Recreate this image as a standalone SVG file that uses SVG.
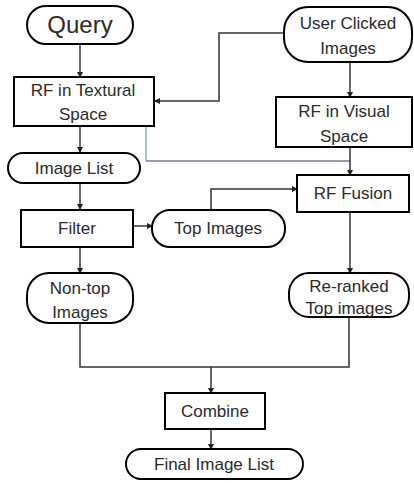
<svg xmlns="http://www.w3.org/2000/svg" width="414" height="483" viewBox="0 0 414 483">
<style>
.box{fill:#fff;stroke:#000;stroke-width:2}
.t{font-family:"Liberation Sans",Arial,sans-serif;font-size:17px;fill:#2a2a2a;text-anchor:middle}
.c{fill:none;stroke:#333;stroke-width:1.5}
</style>
<defs>
<marker id="a" markerWidth="6" markerHeight="6" refX="5" refY="3" orient="auto" markerUnits="userSpaceOnUse">
<path d="M0,0 L6,3 L0,6 Z" fill="#222"/>
</marker>
</defs>
<rect width="414" height="483" fill="#fff"/>
<g id="connectors">
<path class="c" d="M80,44 V77" marker-end="url(#a)"/>
<path class="c" d="M284,33 H219 V101 H155" marker-end="url(#a)"/>
<path class="c" d="M350,62 V97" marker-end="url(#a)"/>
<path d="M146,126 V161" fill="none" stroke="#86a6d6" stroke-width="1.5"/>
<path d="M146,161 H350" fill="none" stroke="#6f7c90" stroke-width="1.5"/>
<path class="c" d="M350,147 V175" marker-end="url(#a)"/>
<path class="c" d="M80,126 V152" marker-end="url(#a)"/>
<path class="c" d="M80,183 V209" marker-end="url(#a)"/>
<path class="c" d="M133,226 H152" marker-end="url(#a)"/>
<path class="c" d="M211,210 V189 H297" marker-end="url(#a)"/>
<path class="c" d="M80,247 V273" marker-end="url(#a)"/>
<path class="c" d="M350,212 V273" marker-end="url(#a)"/>
<path class="c" d="M80,323 V367 H349 V317"/>
<path class="c" d="M211,367 V393" marker-end="url(#a)"/>
<path class="c" d="M211,429 V449" marker-end="url(#a)"/>
</g>
<g id="query"><rect class="box" x="27" y="6" width="106" height="38" rx="19"/><text class="t" x="80" y="33" style="font-size:24px">Query</text></g>
<g id="user-clicked"><rect class="box" x="284" y="7" width="128" height="55" rx="24"/><text class="t" x="348" y="29">User Clicked</text><text class="t" x="348" y="54">Images</text></g>
<g id="rf-textural"><rect class="box" x="14" y="77" width="140" height="49"/><text class="t" x="83" y="96">RF in Textural</text><text class="t" x="83" y="120">Space</text></g>
<g id="rf-visual"><rect class="box" x="276" y="97" width="136" height="50"/><text class="t" x="344" y="117">RF in Visual</text><text class="t" x="344" y="142">Space</text></g>
<g id="image-list"><rect class="box" x="8" y="153" width="132" height="30" rx="15"/><text class="t" x="74" y="174">Image List</text></g>
<g id="rf-fusion"><rect class="box" x="297" y="175" width="112" height="37"/><text class="t" x="353" y="199">RF Fusion</text></g>
<g id="filter"><rect class="box" x="21" y="210" width="112" height="37"/><text class="t" x="77" y="234">Filter</text></g>
<g id="top-images"><rect class="box" x="152" y="210" width="133" height="37" rx="18"/><text class="t" x="218" y="234">Top Images</text></g>
<g id="non-top"><rect class="box" x="27" y="273" width="106" height="50" rx="22"/><text class="t" x="80" y="294">Non-top</text><text class="t" x="80" y="318">Images</text></g>
<g id="re-ranked"><rect class="box" x="289" y="273" width="120" height="44" rx="20"/><text class="t" x="349" y="292">Re-ranked</text><text class="t" x="349" y="314">Top images</text></g>
<g id="combine"><rect class="box" x="165" y="393" width="100" height="36"/><text class="t" x="215" y="417">Combine</text></g>
<g id="final"><rect class="box" x="126" y="449" width="177" height="30" rx="15"/><text class="t" x="214" y="470">Final Image List</text></g>
</svg>
